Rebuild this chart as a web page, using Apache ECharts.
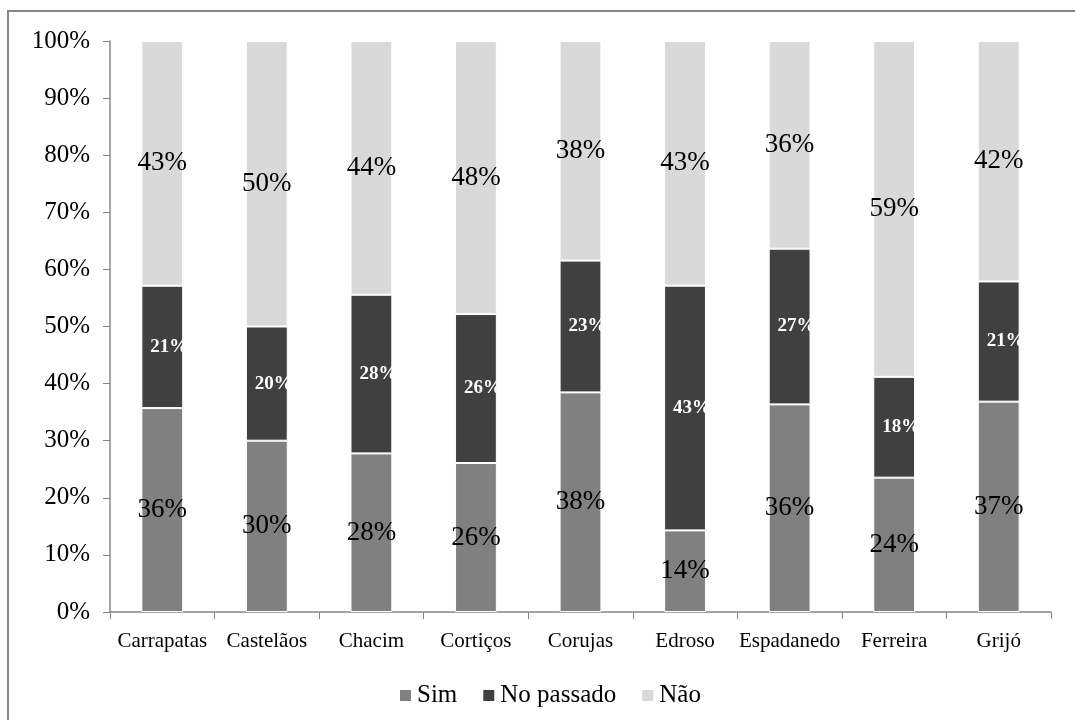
<!DOCTYPE html>
<html>
<head>
<meta charset="utf-8">
<script src="https://cdn.jsdelivr.net/npm/echarts@6/dist/echarts.min.js"></script>
<style>
html,body{margin:0;padding:0;background:#fff;}
#c{width:1075px;height:720px;}
</style>
</head>
<body>
<div id="c"></div>
<script>
const categories = ['Carrapatas','Castelãos','Chacim','Cortiços','Corujas','Edroso','Espadanedo','Ferreira','Grijó'];
const seriesNames = ['Sim','No passado','Não'];
const seriesColors = ['#808080','#404040','#d9d9d9'];
const sim = [35.71, 30.00, 27.78, 26.09, 38.46, 14.29, 36.36, 23.53, 36.84];
const noPassado = [21.43, 20.00, 27.78, 26.09, 23.08, 42.86, 27.27, 17.65, 21.05];
const nao = [42.86, 50.00, 44.44, 47.82, 38.46, 42.85, 36.37, 58.82, 42.11];
const yTicks = [0,10,20,30,40,50,60,70,80,90,100];

const serif = "'Liberation Serif', 'Times New Roman', Times, serif";
const chart = echarts.init(document.getElementById('c'), null, {renderer:'canvas'});
const fmt = p => Math.round(p.value) + '%';
const barBase = {
  type:'bar', stack:'total', barWidth:'40%',
  emphasis:{disabled:true}
};

chart.setOption({
  animation:false,
  backgroundColor:'#ffffff',
  textStyle:{fontFamily:serif},
  color:seriesColors,
  graphic:[{
    type:'rect', shape:{x:8, y:11, width:1100, height:760},
    style:{fill:'none', stroke:'#868686', lineWidth:2}, silent:true, z:-1
  }],
  grid:{left:110, right:24, top:41, bottom:108, containLabel:false},
  legend:{
    data:seriesNames, left:393, top:678, itemWidth:13, itemHeight:13, itemGap:24,
    icon:'rect', selectedMode:false,
    textStyle:{fontFamily:serif, fontSize:25, color:'#000'}
  },
  xAxis:{
    type:'category', data:categories,
    axisLine:{lineStyle:{color:'#868686', width:1.5}},
    axisTick:{show:true, alignWithLabel:false, length:7, lineStyle:{color:'#868686'}},
    axisLabel:{fontFamily:serif, fontSize:21, color:'#000', margin:19, interval:0}
  },
  yAxis:{
    type:'value', min:0, max:100, interval:10,
    axisLine:{show:true, lineStyle:{color:'#868686', width:1.5}},
    axisTick:{show:true, length:7, inside:false, lineStyle:{color:'#868686'}},
    splitLine:{show:false},
    axisLabel:{fontFamily:serif, fontSize:25, color:'#000', margin:20,
      formatter: v => yTicks.includes(v) ? v + '%' : ''}
  },
  series:[
    Object.assign({}, barBase, {name:seriesNames[0], data:sim,
      itemStyle:{color:seriesColors[0], borderColor:'#fff', borderWidth:1},
      label:{show:true, position:'inside', formatter:fmt, fontFamily:serif, fontSize:27, color:'#000'}}),
    Object.assign({}, barBase, {name:seriesNames[1], data:noPassado,
      itemStyle:{color:seriesColors[1], borderColor:'#fff', borderWidth:1},
      label:{show:true, position:'inside', formatter:fmt, fontFamily:serif, fontSize:19, fontWeight:'bold', color:'#fff', offset:[7,0]}}),
    Object.assign({}, barBase, {name:seriesNames[2], data:nao,
      itemStyle:{color:seriesColors[2], borderColor:'#fff', borderWidth:1},
      label:{show:true, position:'inside', formatter:fmt, fontFamily:serif, fontSize:27, color:'#000'}})
  ]
});
</script>
</body>
</html>
